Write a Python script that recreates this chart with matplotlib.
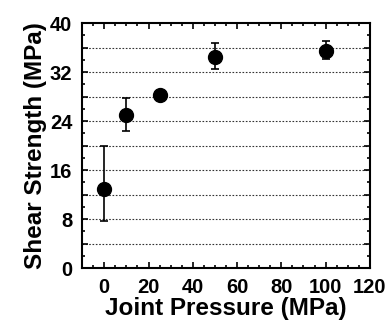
import matplotlib
matplotlib.use("Agg")
import matplotlib.pyplot as plt
from matplotlib.ticker import MultipleLocator, FuncFormatter

plt.rcParams['font.family'] = ['Liberation Sans', 'DejaVu Sans']
plt.rcParams['font.weight'] = 'bold'

pressure = [0, 10, 25, 50, 100]
strength = [12.9, 25.0, 28.2, 34.5, 35.5]
err_low = [5.3, 2.6, 0.4, 2.0, 1.4]
err_high = [7.0, 2.7, 0.4, 2.2, 1.6]

fig = plt.figure(figsize=(3.91, 3.20), dpi=100)
ax = fig.add_axes([0.21, 0.1625, 0.736, 0.765])

for y in range(4, 40, 4):
    ax.axhline(y, color='#333333', lw=0.8, ls=(0, (1.5, 1.5)), zorder=1)

ax.errorbar(pressure, strength, yerr=[err_low, err_high], fmt='o', color='black',
            ms=10, capsize=3, elinewidth=1.2, capthick=1.2, zorder=3)

ax.set_xlim(-10, 120)
ax.set_ylim(0, 40)
ax.xaxis.set_major_locator(MultipleLocator(20))
ax.xaxis.set_minor_locator(MultipleLocator(5))
ax.yaxis.set_major_locator(MultipleLocator(4))
ax.yaxis.set_minor_locator(MultipleLocator(2))
ax.yaxis.set_major_formatter(FuncFormatter(lambda v, p: f"{int(v)}" if int(round(v)) % 8 == 0 else ""))

ax.tick_params(which='both', direction='in', top=True, right=True, width=1.2, labelsize=14.5)
ax.tick_params(which='major', length=4.5)
ax.tick_params(which='minor', length=2.5)
ax.tick_params(axis='x', pad=7)
ax.tick_params(axis='y', pad=7)
for lab in ax.get_xticklabels() + ax.get_yticklabels():
    lab.set_fontweight('bold')
for s in ax.spines.values():
    s.set_linewidth(1.5)

ax.set_xlabel('Joint Pressure (MPa)', fontsize=17.5, fontweight='bold', labelpad=0)
ax.set_ylabel('Shear Strength (MPa)', fontsize=17.5, fontweight='bold', labelpad=2)

fig.savefig('out.png', dpi=100)
